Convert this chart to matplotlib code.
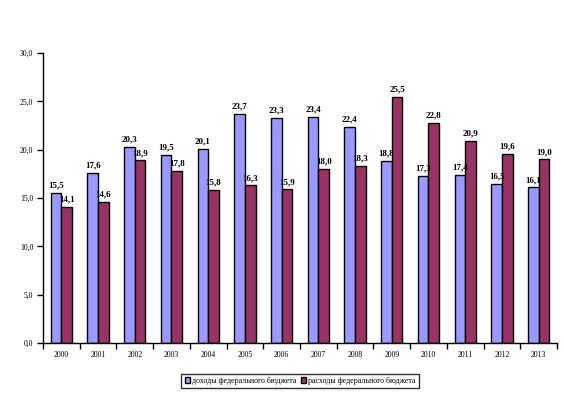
import numpy as np
import matplotlib.pyplot as plt

years = ["2000", "2001", "2002", "2003", "2004", "2005", "2006",
         "2007", "2008", "2009", "2010", "2011", "2012", "2013"]
income = [15.5, 17.6, 20.3, 19.5, 20.1, 23.7, 23.3, 23.4, 22.4, 18.8, 17.3, 17.4, 16.5, 16.1]
spending = [14.1, 14.6, 18.9, 17.8, 15.8, 16.3, 15.9, 18.0, 18.3, 25.5, 22.8, 20.9, 19.6, 19.0]
labels = ["доходы федерального бюджета", "расходы федерального бюджета"]

plt.rcParams['font.family'] = ['Liberation Serif', 'DejaVu Serif']

fig = plt.figure(figsize=(5.64, 3.93), dpi=100)
ax = fig.add_axes([0.0762, 0.1272, 0.9114, 0.7378])

x = np.arange(len(years))
w = 0.29
b1 = ax.bar(x - w / 2, income, w, color='#9999ff', edgecolor='black', linewidth=1.0, label=labels[0])
b2 = ax.bar(x + w / 2, spending, w, color='#993366', edgecolor='black', linewidth=1.0, label=labels[1])

def fmt(v):
    return f"{v:.1f}".replace('.', ',')

for rects, vals in ((b1, income), (b2, spending)):
    for r, v in zip(rects, vals):
        ax.text(r.get_x() + r.get_width() / 2, v + 0.35, fmt(v), ha='center', va='bottom',
                fontsize=6.5, fontweight='bold')

ax.set_xlim(-0.5, len(years) - 0.5)
ax.set_ylim(0, 30)
ax.set_yticks(np.arange(0, 30.1, 5))
ax.set_yticklabels([fmt(v) for v in np.arange(0, 30.1, 5)], fontsize=5.5)
ax.set_xticks(x)
ax.set_xticklabels(years, fontsize=5.5)
ax.set_xticks(np.arange(-0.5, len(years)), minor=True)
ax.tick_params(axis='x', which='major', length=0, pad=6)
ax.tick_params(axis='x', which='minor', length=4, width=1, direction='out')
ax.tick_params(axis='y', length=4, width=1, direction='out', pad=3)

for s in ('top', 'right'):
    ax.spines[s].set_visible(False)
ax.spines['left'].set_linewidth(1.0)
ax.spines['bottom'].set_linewidth(1.0)

fig.legend(loc='center', bbox_to_anchor=(0.532, 0.0305), ncol=2, fontsize=5.7,
           frameon=True, fancybox=False, edgecolor='black', handlelength=0.7,
           handleheight=0.7, handletextpad=0.2, columnspacing=0.6, borderpad=0.4,
           borderaxespad=0)

fig.savefig('out.png', dpi=100)
